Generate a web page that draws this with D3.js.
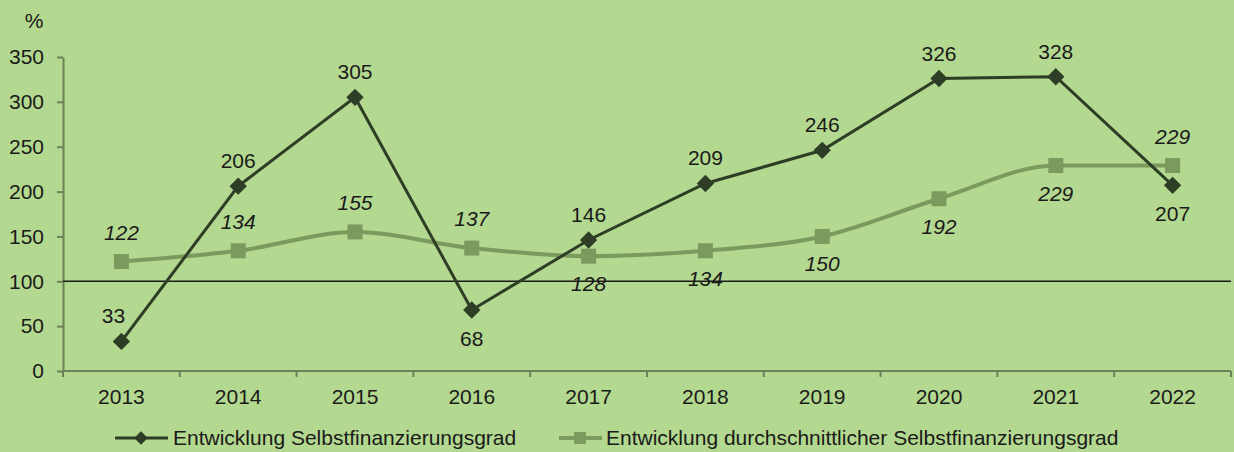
<!DOCTYPE html>
<html>
<head>
<meta charset="utf-8">
<script src="https://cdn.jsdelivr.net/npm/d3@7"></script>
<style>
  body { margin: 0; background: #b3d88f; }
  svg { display: block; font-family: "Liberation Sans", Arial, sans-serif; }
</style>
</head>
<body>
<svg id="chart" width="1234" height="452"></svg>
<script>
let years = ['2013', '2014', '2015', '2016', '2017', '2018', '2019', '2020', '2021', '2022'];
let grad = [33, 206, 305, 68, 146, 209, 246, 326, 328, 207];
let avgGrad = [122, 134, 155, 137, 128, 134, 150, 192, 229, 229];
// label above (-1) or below (+1) the point
let gradPos = [-1, -1, -1, 1, -1, -1, -1, -1, -1, 1];
let avgPos = [-1, -1, -1, -1, 1, 1, 1, 1, 1, -1];
let yTicks = [0, 50, 100, 150, 200, 250, 300, 350];
let seriesNames = ['Entwicklung Selbstfinanzierungsgrad', 'Entwicklung durchschnittlicher Selbstfinanzierungsgrad'];

let dark = '#2e3d26';
let light = '#7b9a5d';
let axisCol = '#6d8259';
let fs = 21;

let svg = d3.select('#chart');

let x = d3.scaleBand().domain(years).range([63, 1231]);
let y = d3.scaleLinear().domain([0, 350]).range([371, 57]);
let cx = d => x(d) + x.bandwidth() / 2;

// y axis
svg.append('g')
  .attr('transform', 'translate(63,0)')
  .call(d3.axisLeft(y).tickValues(yTicks).tickSize(6).tickSizeOuter(0))
  .call(g => g.selectAll('path, line').attr('stroke', axisCol).attr('stroke-width', 2))
  .call(g => g.selectAll('text').attr('font-size', fs).attr('fill', '#1a1a1a').attr('x', -19).attr('font-family', 'Liberation Sans, Arial, sans-serif'));

// x axis with boundary ticks
let xAxis = svg.append('g').attr('transform', 'translate(0,371)');
xAxis.append('line').attr('x1', 63).attr('x2', 1231).attr('stroke', axisCol).attr('stroke-width', 2);
xAxis.selectAll('.bt').data(years.concat(['end']))
  .enter().append('line')
  .attr('x1', (d, i) => 63 + i * x.bandwidth())
  .attr('x2', (d, i) => 63 + i * x.bandwidth())
  .attr('y1', 0).attr('y2', 6)
  .attr('stroke', axisCol).attr('stroke-width', 2);
xAxis.selectAll('.yl').data(years)
  .enter().append('text')
  .attr('x', d => cx(d)).attr('y', 33)
  .attr('text-anchor', 'middle').attr('font-size', fs).attr('fill', '#1a1a1a')
  .text(d => d);

svg.append('text').attr('x', 34).attr('y', 28).attr('text-anchor', 'middle')
  .attr('font-size', fs).attr('fill', '#1a1a1a').text('%');

// 100 % reference line
svg.append('line').attr('x1', 63).attr('x2', 1231).attr('y1', y(100)).attr('y2', y(100))
  .attr('stroke', '#1a1a1a').attr('stroke-width', 1.5);

// average series (smoothed)
let avgLine = d3.line().x((d, i) => cx(years[i])).y(d => y(d)).curve(d3.curveMonotoneX);
svg.append('path').datum(avgGrad).attr('d', avgLine)
  .attr('fill', 'none').attr('stroke', light).attr('stroke-width', 4);
svg.selectAll('.sq').data(avgGrad).enter().append('rect')
  .attr('x', (d, i) => cx(years[i]) - 7.5).attr('y', d => y(d) - 7.5)
  .attr('width', 15).attr('height', 15).attr('fill', light);

// main series
let gradLine = d3.line().x((d, i) => cx(years[i])).y(d => y(d));
svg.append('path').datum(grad).attr('d', gradLine)
  .attr('fill', 'none').attr('stroke', dark).attr('stroke-width', 3);
svg.selectAll('.dm').data(grad).enter().append('path')
  .attr('d', d3.symbol().type(d3.symbolSquare).size(150))
  .attr('transform', (d, i) => `translate(${cx(years[i])},${y(d)}) rotate(45)`)
  .attr('fill', dark);

// labels
svg.selectAll('.gl').data(grad).enter().append('text')
  .attr('x', (d, i) => cx(years[i]) - (i === 0 ? 8 : 0))
  .attr('y', (d, i) => y(d) + (gradPos[i] < 0 ? -18 : 36))
  .attr('text-anchor', 'middle').attr('font-size', fs).attr('fill', '#1a1a1a')
  .text(d => d);
svg.selectAll('.al').data(avgGrad).enter().append('text')
  .attr('x', (d, i) => cx(years[i]))
  .attr('y', (d, i) => y(d) + (avgPos[i] < 0 ? -22 : 35))
  .attr('text-anchor', 'middle').attr('font-size', fs).attr('font-style', 'italic').attr('fill', '#1a1a1a')
  .text(d => d);

// legend
let leg = svg.append('g').attr('transform', 'translate(0,438)');
leg.append('line').attr('x1', 115).attr('x2', 168).attr('stroke', dark).attr('stroke-width', 3);
leg.append('path').attr('d', d3.symbol().type(d3.symbolSquare).size(90))
  .attr('transform', 'translate(141,0) rotate(45)').attr('fill', dark);
leg.append('text').attr('x', 173).attr('y', 7).attr('font-size', fs).attr('fill', '#1a1a1a').text(seriesNames[0]);
leg.append('line').attr('x1', 559).attr('x2', 602).attr('stroke', light).attr('stroke-width', 4);
leg.append('rect').attr('x', 574).attr('y', -6).attr('width', 12).attr('height', 12).attr('fill', light);
leg.append('text').attr('x', 606).attr('y', 7).attr('font-size', fs).attr('fill', '#1a1a1a').text(seriesNames[1]);
</script>
</body>
</html>
